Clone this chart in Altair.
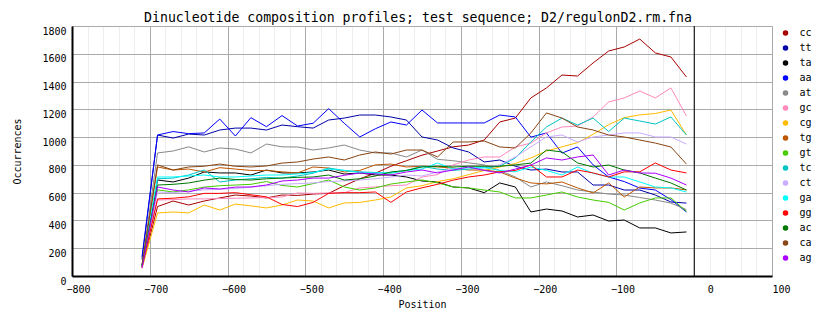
import altair as alt
import pandas as pd

# x positions of the sampled windows
positions = [-710, -690, -670, -650, -630, -610, -590, -570, -550, -530, -510, -490,
             -470, -450, -430, -410, -390, -370, -350, -330, -310, -290, -270, -250,
             -230, -210, -190, -170, -150, -130, -110, -90, -70, -50, -30, -10]

series_names = ["cc", "tt", "ta", "aa", "at", "gc", "cg", "tg",
                "gt", "tc", "ct", "ga", "gg", "ac", "ca", "ag"]
series_colors = ["#A80000", "#0000A8", "#000000", "#0000FF", "#888888", "#FF88BB",
                 "#FFBB00", "#BB5500", "#44CC00", "#00C4C4", "#C8AAFF", "#00FFFF",
                 "#FF0000", "#007700", "#884411", "#AA00FF"]

cc = [60, 500, 540, 511, 540, 562, 583, 576, 562, 583, 580, 590, 595, 650, 700, 740, 790, 830,
      870, 900, 930, 943, 979, 1109, 1137, 1282, 1354, 1447, 1440, 1534, 1620, 1649, 1706, 1606, 1577, 1433]
tt = [120, 1015, 993, 1022, 1015, 1051, 1065, 1065, 1051, 1087, 1075, 1065, 1123, 1137, 1159, 1159, 1145, 1123,
      1001, 979, 922, 893, 821, 835, 790, 763, 770, 749, 749, 655, 655, 619, 619, 583, 533, 525]
ta = [70, 691, 677, 705, 749, 742, 742, 727, 763, 742, 742, 749, 763, 734, 742, 727, 727, 713,
      684, 677, 641, 634, 600, 670, 641, 461, 482, 468, 425, 439, 396, 403, 346, 346, 310, 317]
aa = [139, 1015, 1040, 1025, 1030, 1130, 1008, 1140, 1075, 1155, 1080, 1100, 1205, 1100, 1001, 1060, 1109, 1087,
      1195, 1102, 1102, 1102, 1102, 1159, 1145, 1000, 1030, 885, 929, 800, 713, 680, 633, 619, 550, 461]
at = [75, 886, 900, 930, 893, 922, 914, 886, 950, 930, 929, 907, 922, 943, 907, 886, 886, 857,
      907, 840, 830, 815, 800, 760, 713, 641, 677, 650, 619, 605, 590, 583, 565, 547, 525, 478]
gc = [65, 547, 550, 555, 555, 558, 560, 562, 565, 569, 598, 595, 598, 600, 634, 641, 650, 655,
      713, 730, 800, 835, 857, 857, 929, 957, 1030, 1073, 1080, 1145, 1253, 1282, 1332, 1282, 1354, 1152]
cg = [55, 454, 461, 454, 511, 475, 518, 505, 490, 511, 547, 540, 490, 526, 530, 547, 569, 634,
      650, 680, 700, 730, 760, 785, 810, 850, 900, 930, 960, 1020, 1090, 1140, 1160, 1170, 1195, 1015]
tg = [75, 785, 763, 770, 749, 780, 770, 760, 760, 750, 742, 785, 777, 749, 760, 800, 806, 785,
      790, 785, 777, 763, 763, 749, 705, 670, 663, 677, 634, 598, 670, 569, 641, 634, 634, 620]
gt = [70, 620, 605, 620, 640, 650, 655, 660, 680, 652, 641, 665, 691, 641, 619, 634, 662, 677,
      691, 670, 641, 634, 619, 605, 562, 562, 583, 605, 569, 547, 530, 475, 526, 562, 562, 465]
tc = [75, 700, 705, 727, 763, 677, 691, 700, 710, 705, 720, 740, 777, 760, 750, 745, 740, 760,
      790, 770, 760, 770, 780, 790, 850, 965, 1073, 1137, 1087, 1137, 1040, 1137, 1116, 1094, 1145, 1015]
ct = [70, 605, 600, 610, 620, 625, 630, 640, 650, 660, 665, 670, 680, 685, 691, 700, 713, 727,
      720, 749, 770, 785, 785, 800, 857, 930, 1001, 1015, 965, 1001, 1015, 1030, 1030, 1001, 1001, 950]
ga = [70, 713, 713, 720, 727, 713, 713, 720, 727, 727, 735, 745, 770, 760, 745, 740, 745, 760,
      770, 814, 770, 780, 780, 760, 750, 785, 760, 727, 785, 740, 713, 713, 677, 641, 634, 605]
gg = [65, 555, 560, 570, 595, 595, 600, 585, 570, 515, 500, 530, 595, 600, 600, 605, 530, 605,
      635, 660, 690, 713, 727, 750, 760, 800, 713, 713, 763, 742, 713, 750, 750, 814, 763, 742]
ac = [75, 655, 660, 670, 690, 705, 695, 691, 700, 705, 710, 713, 727, 691, 700, 720, 749, 760,
      785, 790, 785, 790, 790, 790, 800, 813, 907, 893, 814, 785, 799, 763, 742, 705, 670, 619]
ca = [80, 800, 763, 785, 790, 806, 790, 785, 792, 813, 821, 842, 857, 835, 871, 893, 878, 907,
      907, 857, 965, 965, 972, 929, 922, 1030, 1174, 1137, 1073, 1051, 1015, 1001, 979, 957, 929, 806]
ag = [58, 641, 619, 605, 634, 626, 640, 641, 655, 684, 691, 705, 705, 725, 742, 735, 727, 749,
      763, 742, 763, 785, 760, 742, 770, 799, 850, 835, 857, 871, 727, 763, 742, 740, 705, 655]

x_ticks = [-800, -700, -600, -500, -400, -300, -200, -100, 0, 100]
y_ticks = [0, 200, 400, 600, 800, 1000, 1200, 1400, 1600, 1800]
minor_x = [v for v in range(-780, 100, 20) if v % 100 != 0]
X_MIN, X_MAX, Y_MIN, Y_MAX = -800, 100, 0, 1800

values = [cc, tt, ta, aa, at, gc, cg, tg, gt, tc, ct, ga, gg, ac, ca, ag]
rows = []
for name, vals in zip(series_names, values):
    for p, v in zip(positions, vals):
        rows.append({"pos": p, "val": v, "series": name})
df = pd.DataFrame(rows)

MONO = "DejaVu Sans Mono"

xscale = alt.Scale(domain=[X_MIN, X_MAX], nice=False, zero=False)
yscale = alt.Scale(domain=[Y_MIN, Y_MAX], nice=False)

x_label_offset = {"condition": [{"test": "datum.value == 0", "value": 13},
                                {"test": "datum.value == 100", "value": 0}],
                  "value": -6}

x_axis = alt.Axis(values=x_ticks, title="Position", grid=True, ticks=False, format="d",
                  orient="bottom",
                  labelAlign="left", labelOffset=x_label_offset,
                  labelBaseline="top", labelPadding=8, labelFlush=False,
                  labelOverlap=False, titleX=350, titleY=31,
                  titleBaseline="alphabetic", titleAlign="center",
                  labelFont=MONO, labelFontSize=10, labelColor="black",
                  titleFont=MONO, titleFontSize=10, titleFontWeight="normal",
                  titleColor="black", domainColor="black", domainWidth=2,
                  gridColor="#AAAAAA", gridWidth=1, gridOpacity=1)
x_minor_axis = alt.Axis(values=minor_x, orient="bottom", grid=True, gridColor="#EEEEEE",
                        gridWidth=1, gridOpacity=1, labels=False, ticks=False,
                        domain=False, title=None)
y_axis = alt.Axis(values=y_ticks, title="Occurrences", grid=True, ticks=False, format="d",
                  labelBaseline="top", labelPadding=6, labelFlush=False,
                  labelOverlap=False, titleX=-55, titleY=125, titleAngle=270,
                  titleAlign="center", titleBaseline="middle",
                  labelFont=MONO, labelFontSize=10, labelColor="black",
                  titleFont=MONO, titleFontSize=10, titleFontWeight="normal",
                  titleColor="black", domainColor="black", domainWidth=2,
                  gridColor="#AAAAAA", gridWidth=1, gridOpacity=1)

# invisible layer that only carries the light minor grid of the x axis
minor = alt.Chart(pd.DataFrame({"g": minor_x})).mark_point(opacity=0).encode(
    x=alt.X("g:Q", scale=xscale, axis=x_minor_axis)
)

lines = alt.Chart(df).mark_line(strokeWidth=1).encode(
    x=alt.X("pos:Q", scale=xscale, axis=x_axis, title="Position"),
    y=alt.Y("val:Q", scale=yscale, axis=y_axis, title="Occurrences"),
    color=alt.Color("series:N", scale=alt.Scale(domain=series_names, range=series_colors),
                    legend=alt.Legend(title=None, orient="none", legendX=708.5, legendY=2,
                                      symbolType="circle", symbolSize=9, symbolStrokeWidth=2.5,
                                      symbolOpacity=1, labelFont=MONO, labelFontSize=10,
                                      labelColor="black", rowPadding=1, labelOffset=9,
                                      padding=0)),
)

zero_line = alt.Chart(pd.DataFrame({"z": [0]})).mark_rule(
    color="black", strokeWidth=1
).encode(x=alt.X("z:Q", scale=xscale, axis=None))

chart = alt.layer(minor, lines, zero_line).resolve_axis(x="independent").properties(
    width=700,
    height=250,
    padding={"left": 72, "top": 26, "right": 62, "bottom": 52},
    autosize=alt.AutoSizeParams(type="none"),
    title=alt.TitleParams(
        text="Dinucleotide composition profiles; test sequence; D2/regulonD2.rm.fna",
        font=MONO, fontSize=13.2, fontWeight="normal", anchor="middle", frame="group",
        offset=3, baseline="alphabetic", dx=-4, dy=13, color="black"),
)

chart.save("out.html", embed_options={"renderer": "svg", "actions": False})
